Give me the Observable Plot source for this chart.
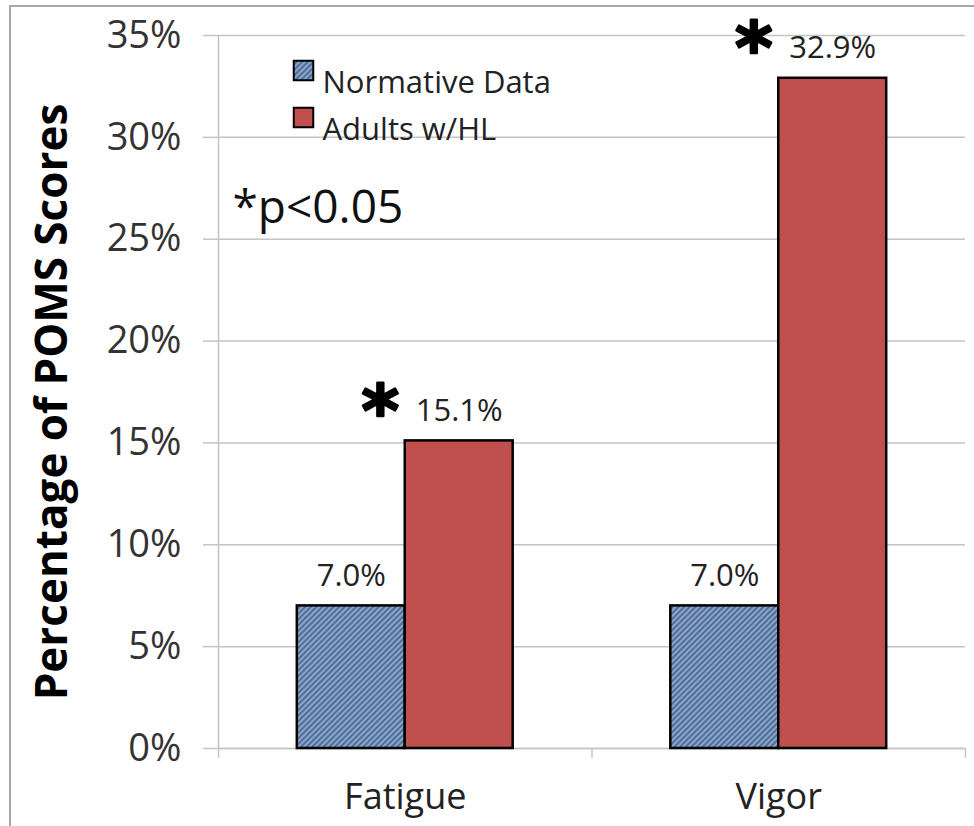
<!DOCTYPE html>
<html>
<head>
<meta charset="utf-8">
<script src="https://cdn.jsdelivr.net/npm/d3@7"></script>
<script src="https://cdn.jsdelivr.net/npm/@observablehq/plot@0.6"></script>
<style>
  html, body { margin: 0; padding: 0; background: #fff; }
  #wrap { position: relative; width: 974px; height: 826px; overflow: hidden; }
  #border { position: absolute; left: 9px; top: 5px; width: 980px; height: 840px;
            border-left: 2px solid #a8a8a8; border-top: 2px solid #a8a8a8; pointer-events: none; }
</style>
</head>
<body>
<div id="wrap"><div id="border"></div></div>
<script>
const categories = ["Fatigue", "Vigor"];
const seriesNames = ["Normative Data", "Adults w/HL"];
const normative = [7.0, 7.0];
const adults = [15.1, 32.9];
const significant = [true, true];
const yTicks = [0, 5, 10, 15, 20, 25, 30, 35];
const note = "*p<0.05";
const yTitle = "Percentage of POMS Scores";

const data = categories.flatMap((c, i) => [
  {cat: c, ci: i, si: 0, value: normative[i], sig: false},
  {cat: c, ci: i, si: 1, value: adults[i], sig: significant[i]}
]);

const BAR = 0.289; // bar width as fraction of category band
const x1 = d => d.ci + 0.5 + (d.si - 1) * BAR;
const x2 = d => x1(d) + BAR;
const xc = d => x1(d) + BAR / 2;

const font = "'Open Sans', sans-serif";
const grey = "#c4c4c4";

const chart = Plot.plot({
  width: 974,
  height: 826,
  marginLeft: 218,
  marginRight: 9,
  marginTop: 35,
  marginBottom: 78,
  style: {fontFamily: font, background: "transparent"},
  x: {type: "linear", domain: [0, 2]},
  y: {domain: [0, 35]},
  marks: [
    Plot.gridY(yTicks, {stroke: grey, strokeOpacity: 1, strokeWidth: 1.5}),
    Plot.axisY({ticks: yTicks, tickSize: 15, tickPadding: 22, tickFormat: d => d + "%",
                fontSize: 38, stroke: grey, strokeWidth: 1.5, fill: "#333", label: null}),
    Plot.ruleX([0], {stroke: grey, strokeWidth: 1.5}),
    Plot.ruleY([0], {stroke: grey, strokeWidth: 1.5}),
    Plot.axisX({ticks: [0, 1, 2], tickSize: 10, tickFormat: () => "", stroke: grey, strokeWidth: 1.5, label: null}),
    Plot.axisX({ticks: [0.5, 1.5], tickSize: 0, tickPadding: 35, tickFormat: d => categories[Math.floor(d)],
                fontSize: 36, fill: "#222", label: null}),
    Plot.rectY(data.filter(d => d.si === 0), {x1, x2, y: "value", fill: "url(#hatch)", stroke: "#000", strokeWidth: 2.5}),
    Plot.rectY(data.filter(d => d.si === 1), {x1, x2, y: "value", fill: "#C0504D", stroke: "#000", strokeWidth: 2.5}),
    Plot.text(data, {x: xc, y: "value", text: d => d.value.toFixed(1) + "%", dy: -30, fontSize: 31, fill: "#222"}),
    Plot.text(data.filter(d => d.sig), {x: x1, y: "value", text: () => "*", dx: -25, dy: -28,
                fontFamily: "'DejaVu Sans', sans-serif", fontSize: 72, fontWeight: "bold",
                fill: "#000", stroke: "#000", strokeWidth: 2.5}),
    // legend
    Plot.dot([seriesNames[0]], {frameAnchor: "top-left", dx: 85, dy: 35, symbol: "square", r: 11,
                fill: "url(#hatch)", stroke: "#000", strokeWidth: 2}),
    Plot.dot([seriesNames[1]], {frameAnchor: "top-left", dx: 85, dy: 82, symbol: "square", r: 11,
                fill: "#C0504D", stroke: "#000", strokeWidth: 2}),
    Plot.text([seriesNames[0]], {frameAnchor: "top-left", dx: 104, dy: 35, textAnchor: "start", fontSize: 31, fill: "#222"}),
    Plot.text([seriesNames[1]], {frameAnchor: "top-left", dx: 104, dy: 82, textAnchor: "start", fontSize: 31, fill: "#222"}),
    Plot.text([note], {frameAnchor: "top-left", dx: 14, dy: 155, textAnchor: "start", fontSize: 46, fill: "#111"}),
    Plot.text([yTitle], {frameAnchor: "left", dx: -166, dy: 10, rotate: -90, textAnchor: "middle",
                fontSize: 44, fontWeight: "bold", fill: "#000"})
  ]
});

d3.select(chart).insert("defs", ":first-child").html(
  `<pattern id="hatch" patternUnits="userSpaceOnUse" width="4" height="4" patternTransform="rotate(45)">
     <rect width="4" height="4" fill="#8ba5cb"/>
     <rect width="1.8" height="4" fill="#4b6792"/>
   </pattern>`);

chart.style.position = "absolute";
chart.style.left = "0px";
chart.style.top = "0px";
document.getElementById("wrap").prepend(chart);
</script>
</body>
</html>
